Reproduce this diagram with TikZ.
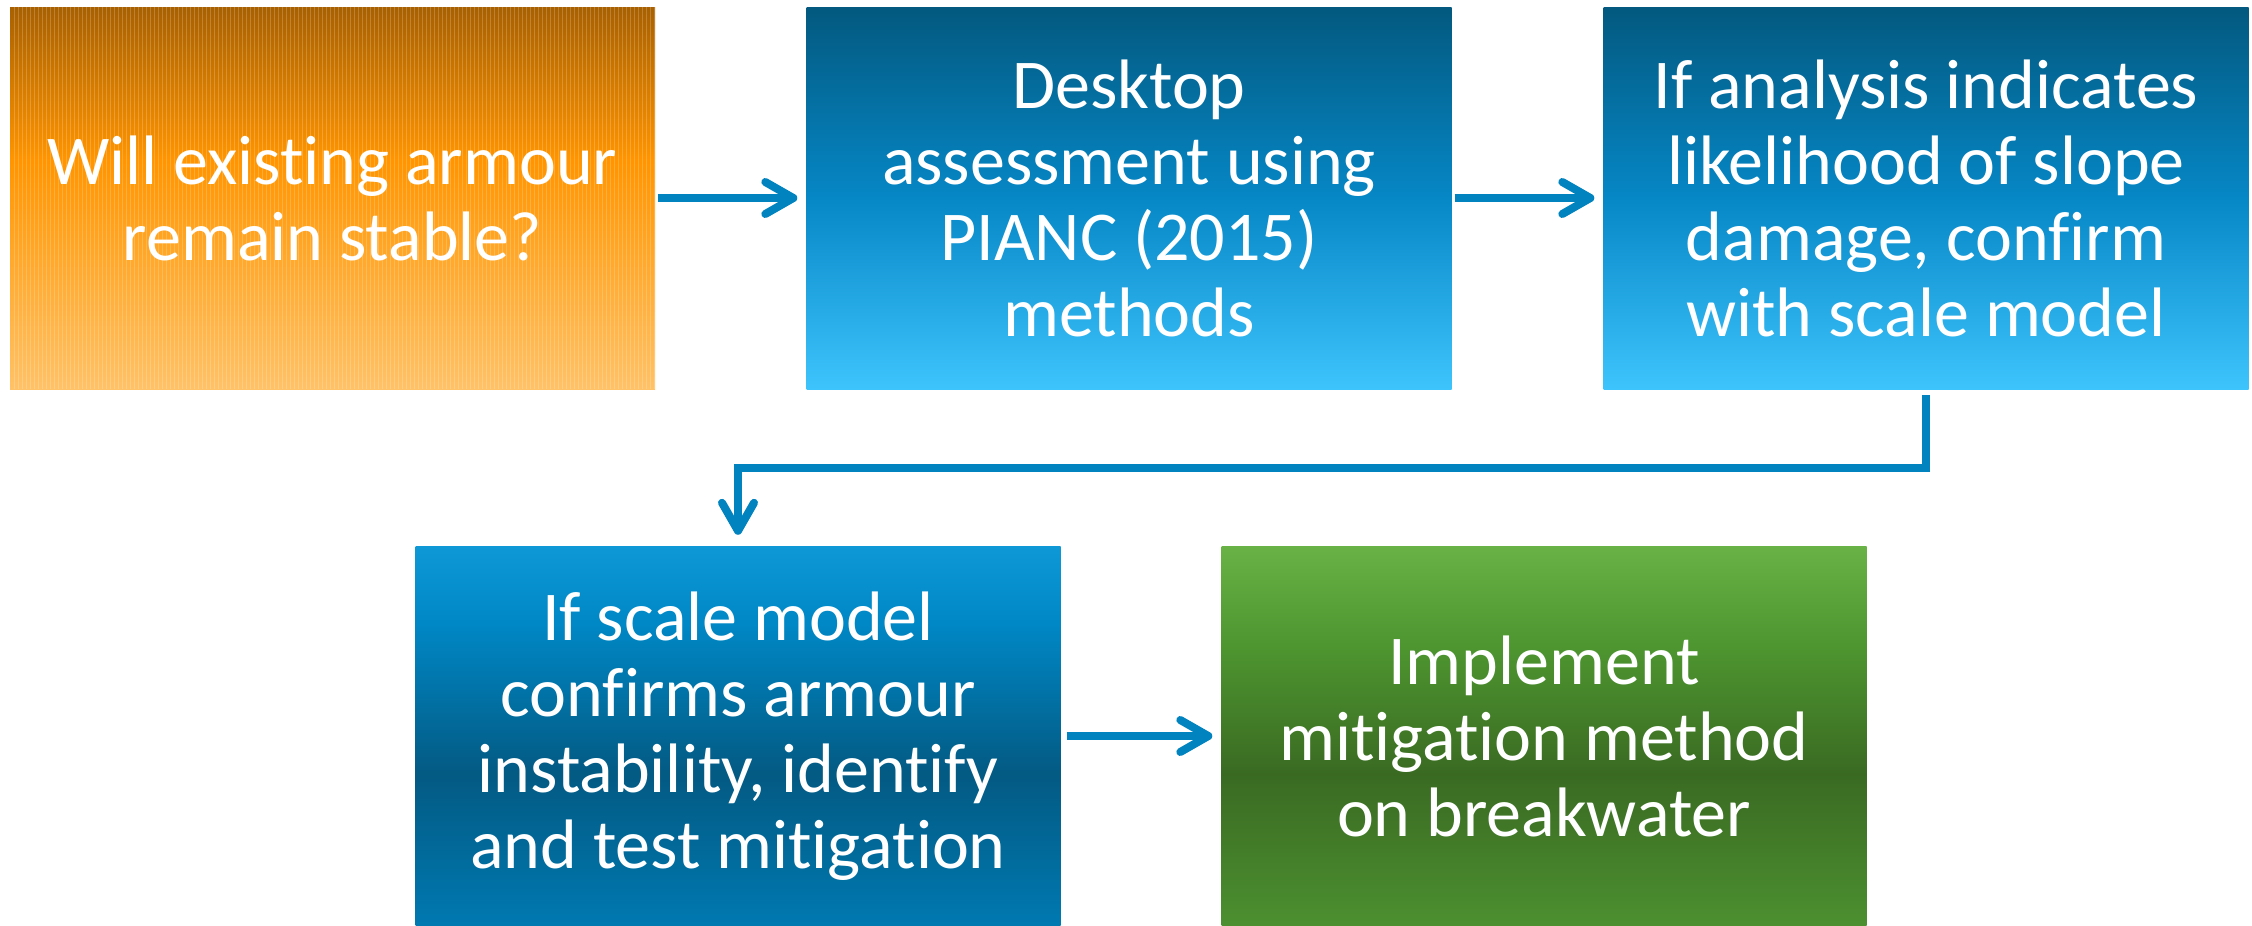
\documentclass[tikz,border=0pt]{standalone}
\usepackage{fontspec}
\setmainfont{Carlito}[Ligatures=NoCommon]
\usetikzlibrary{arrows.meta,calc}

\definecolor{arrowblue}{RGB}{0,131,190}
\definecolor{orA}{RGB}{168,96,0}
\definecolor{orB}{RGB}{255,149,0}
\definecolor{orC}{RGB}{255,194,102}
\definecolor{blA}{RGB}{3,89,127}
\definecolor{blB}{RGB}{6,135,198}
\definecolor{blC}{RGB}{62,196,253}
\definecolor{blD}{RGB}{15,152,214}
\definecolor{blE}{RGB}{0,136,198}
\definecolor{blF}{RGB}{3,90,131}
\definecolor{blG}{RGB}{0,121,177}
\definecolor{grA}{RGB}{104,178,70}
\definecolor{grB}{RGB}{78,150,48}
\definecolor{grC}{RGB}{58,106,34}
\definecolor{grD}{RGB}{76,144,48}

% colour runs, bottom to top
\pgfdeclareverticalshading{orangerun}{100bp}{color(0bp)=(orC); color(25bp)=(orC); color(55bp)=(orB); color(75bp)=(orA); color(100bp)=(orA)}
\pgfdeclareverticalshading{bluedown}{100bp}{color(0bp)=(blC); color(25bp)=(blC); color(50bp)=(blB); color(75bp)=(blA); color(100bp)=(blA)}
\pgfdeclareverticalshading{blueup}{100bp}{color(0bp)=(blG); color(25bp)=(blG); color(45bp)=(blF); color(65bp)=(blE); color(75bp)=(blD); color(100bp)=(blD)}
\pgfdeclareverticalshading{greenrun}{100bp}{color(0bp)=(grD); color(25bp)=(grD); color(45bp)=(grC); color(62bp)=(grB); color(75bp)=(grA); color(100bp)=(grA)}

\tikzset{
	box/.style={rectangle, minimum width=645pt, minimum height=382pt, inner sep=0pt,
		text=white, align=center, font=\fontsize{70}{76}\selectfont},
	flow/.style={draw=arrowblue, line width=8pt,
		-{Straight Barb[length=28pt,width=32pt,round]}},
	stripes/.style={path picture={
		\foreach \i in {1,...,161}
			\draw[white, opacity=.2, line width=1pt]
				([xshift=\i*4pt]path picture bounding box.north west) --
				([xshift=\i*4pt]path picture bounding box.south west);
	}}
}

\begin{document}
\begin{tikzpicture}[x=1pt,y=1pt,yscale=-1]
	\useasboundingbox (0,0) rectangle (2252,926);
	
	%top row
	\node[box, shading=orangerun, stripes] (stable) at (332.5,198) {Will existing armour\\remain stable?};
	\node[box, shading=bluedown] (desk) at (1129,198) {Desktop\\assessment using\\PIANC (2015)\\methods};
	\node[box, shading=bluedown] (likely) at (1926,198) {If analysis indicates\\likelihood of slope\\damage, confirm\\with scale model};
	
	%bottom row
	\node[box, shading=blueup, minimum height=380pt] (test) at (738,736) {If scale model\\confirms armour\\instability, identify\\and test mitigation};
	\node[box, shading=greenrun, minimum height=380pt] (impl) at (1544,736) {Implement\\mitigation method\\on breakwater};
	
	\coordinate (bend) at ($(likely.south)!.5!(test.north)$);
	
	%arrows
	\draw[flow, shorten <=3pt, shorten >=9pt] (stable) -- (desk);
	\draw[flow, shorten <=3pt, shorten >=9pt] (desk) -- (likely);
	\draw[flow, shorten <=6pt, shorten >=11pt] (likely.south) |- (bend) -| (test.north);
	\draw[flow, shorten <=6pt, shorten >=9pt] (test) -- (impl);
	
\end{tikzpicture}
\end{document}
